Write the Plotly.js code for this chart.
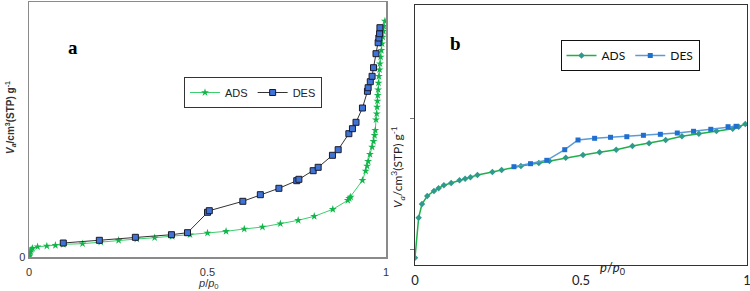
<!DOCTYPE html>
<html>
<head>
<meta charset="utf-8">
<script src="https://cdn.plot.ly/plotly-3.0.1.min.js"></script>
<style>html,body{margin:0;padding:0;background:#fff;}#chart{width:750px;height:291px;}</style>
</head>
<body>
<div id="chart"></div>
<script>
// Panel a (relative pressure p/p0 and adsorbed volume, arbitrary units)
const adsA_x = [0.001,0.002,0.004,0.006,0.010,0.024,0.050,0.074,0.096,0.150,0.201,0.251,0.302,0.352,0.401,0.451,0.500,0.552,0.603,0.654,0.704,0.754,0.799,0.851,0.893,0.897,0.901,0.934,0.943,0.947,0.950,0.955,0.961,0.965,0.968,0.970,0.972,0.974,0.975,0.976,0.977,0.978,0.979,0.980,0.982,0.983,0.985,0.987,0.989,0.991,0.993,0.994,0.997];
const adsA_y = [1,3,5,7.5,8.7,10.3,11,11.7,12.7,13.3,15,16.7,18,19.3,20.7,22.3,24,25.7,28,30,33.3,36.7,40.7,47.7,56.7,58.7,60,76.7,86,91,95.7,102.7,110,115.7,121.7,126.7,137.3,143.3,150,156,161.7,167.3,174,180.7,187.3,193.3,200,206.7,213.3,220,225.7,230.7,236];
const desA_x = [0.096,0.197,0.298,0.399,0.444,0.500,0.505,0.599,0.648,0.700,0.750,0.756,0.796,0.810,0.850,0.866,0.896,0.906,0.916,0.934,0.948,0.950,0.956,0.961,0.965,0.972,0.978,0.980,0.982,0.983];
const desA_y = [14,16.7,19.7,22.3,24.3,44.7,46.3,55.7,62.3,68.7,76.3,77.7,86.3,89.7,101.7,107.3,123.3,128.3,134.7,149,165.7,169.3,175.3,180.7,189.3,203.3,214.3,219,223.3,229.3];

// Panel b
const adsB_x = [0.000,0.011,0.021,0.037,0.057,0.071,0.087,0.109,0.134,0.151,0.167,0.188,0.233,0.261,0.319,0.373,0.405,0.454,0.506,0.556,0.606,0.655,0.705,0.755,0.804,0.855,0.908,0.957,0.975,0.995];
const adsB_y = [7.3,47.3,61,69,74,76.7,79.7,82,84.7,86.3,87.7,90,93,95,99,102,104,107.3,110,112.7,115.3,119,121.7,125,128.7,131.3,134,136.3,138.3,141];
const desB_x = [0.298,0.348,0.397,0.451,0.491,0.541,0.589,0.638,0.688,0.739,0.790,0.839,0.891,0.943,0.967];
const desB_y = [98.3,101.3,104.7,115.3,125,126.7,127.7,128.3,129.7,130.7,132,133.7,135.7,138.3,138.7];

const seriesNames = ['ADS','DES'];
const xTickVals = [0,0.5,1];
const xTickText = ['0','0.5','1'];

const W = 750, H = 291;
const px = x => x / W;
const py = y => (H - y) / H;

const traces = [
  {x: adsA_x, y: adsA_y, name: seriesNames[0], type: 'scatter', mode: 'lines+markers', xaxis: 'x', yaxis: 'y', legend: 'legend',
   line: {color: '#3ccf6e', width: 1}, marker: {symbol: 'star', size: 6, color: '#12b54a'}},
  {x: desA_x, y: desA_y, name: seriesNames[1], type: 'scatter', mode: 'lines+markers', xaxis: 'x', yaxis: 'y', legend: 'legend',
   line: {color: '#333333', width: 1}, marker: {symbol: 'square', size: 6, color: '#3f74d6', line: {color: '#1a1a2a', width: 1}}},
  {x: adsB_x, y: adsB_y, name: seriesNames[0], type: 'scatter', mode: 'lines+markers', xaxis: 'x2', yaxis: 'y2', legend: 'legend2',
   line: {color: '#1fb04a', width: 1.5}, marker: {symbol: 'diamond', size: 5, color: '#2f9a8c'}},
  {x: desB_x, y: desB_y, name: seriesNames[1], type: 'scatter', mode: 'lines+markers', xaxis: 'x2', yaxis: 'y2', legend: 'legend2',
   line: {color: '#5b9bd5', width: 1.5}, marker: {symbol: 'square', size: 5, color: '#1f6fd0'}}
];

const fontA = 'Liberation Sans, Arial, sans-serif';
const fontB = 'Lato, Open Sans, sans-serif';

function ann(text, x, y, font, extra) {
  return Object.assign({text: text, x: px(x), y: py(y), xref: 'paper', yref: 'paper', showarrow: false,
    xanchor: 'center', yanchor: 'middle', font: font}, extra || {});
}

const layout = {
  width: W, height: H,
  margin: {l: 0, r: 0, t: 0, b: 0},
  paper_bgcolor: '#fff', plot_bgcolor: '#fff',
  showlegend: true,
  xaxis: {domain: [px(29), px(386)], anchor: 'y', range: [0, 1], tickvals: xTickVals, ticktext: xTickText,
    showline: true, mirror: true, linecolor: '#8a8a8a', linewidth: 1.5, showgrid: false, zeroline: false, ticks: '',
    ticklabelstandoff: 4, ticklabeloverflow: 'allow',
    tickfont: {family: fontA, size: 11, color: '#333'}},
  yaxis: {domain: [py(257), py(2)], anchor: 'x', range: [0, 255], tickvals: [0], ticktext: ['0'],
    showline: true, mirror: true, linecolor: '#8a8a8a', linewidth: 1.5, showgrid: false, zeroline: false, ticks: '',
    tickfont: {family: fontA, size: 11, color: '#333'}},
  xaxis2: {domain: [px(415), px(747)], anchor: 'y2', range: [0, 1], tickvals: xTickVals, ticktext: xTickText,
    showline: true, mirror: true, linecolor: '#333', linewidth: 1.2, showgrid: false, zeroline: false, ticks: '',
    ticklabelstandoff: 3, ticklabeloverflow: 'allow',
    tickfont: {family: fontB, size: 13, color: '#222'}},
  yaxis2: {domain: [py(265), py(5)], anchor: 'x2', range: [0, 260], tickvals: [16, 147],
    showticklabels: false, ticks: 'outside', ticklen: 4, tickcolor: '#777',
    showline: true, mirror: true, linecolor: '#333', linewidth: 1.2, showgrid: false, zeroline: false},
  legend: {x: px(253), y: py(92.5), xanchor: 'center', yanchor: 'middle', orientation: 'h',
    bordercolor: '#333', borderwidth: 1, bgcolor: '#fff', itemwidth: 30,
    font: {family: fontA, size: 11, color: '#222'}},
  legend2: {x: px(630), y: py(55.5), xanchor: 'center', yanchor: 'middle', orientation: 'h',
    bordercolor: '#111', borderwidth: 1, bgcolor: '#fff', itemwidth: 30,
    font: {family: fontB, size: 12, color: '#111'}},
  annotations: [
    ann('<b>a</b>', 73, 48, {family: 'Liberation Serif, Times New Roman, serif', size: 19, color: '#000'}),
    ann('<b>b</b>', 455, 43, {family: 'Liberation Serif, Times New Roman, serif', size: 19, color: '#000'}),
    ann('<i>p</i>/<i>p</i><sub>0</sub>', 208, 284, {family: fontA, size: 11, color: '#333'}),
    ann('<i>p</i>/<i>p</i><sub>0</sub>', 612, 268, {family: fontB, size: 13, color: '#222'}),
    ann('<b><i>V</i><sub><i>a</i></sub>/cm<sup>3</sup>(STP) g<sup>-1</sup></b>', 10, 118, {family: fontA, size: 10, color: '#333'}, {textangle: -90}),
    ann('<i>V</i><sub><i>a</i></sub>/cm<sup>3</sup>(STP) g<sup>-1</sup>', 398, 167, {family: fontB, size: 12, color: '#222'}, {textangle: -90})
  ]
};

Plotly.newPlot('chart', traces, layout, {displayModeBar: false, staticPlot: true});
</script>
</body>
</html>
